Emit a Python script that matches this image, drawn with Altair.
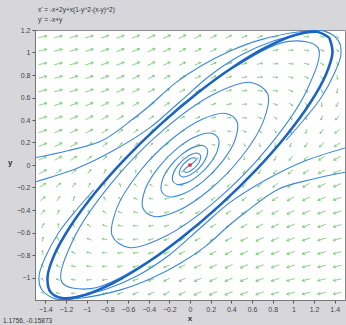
import altair as alt
import pandas as pd

# ---------------- text ----------------
EQ_LINE1 = "x' = -x+2y+x(1-y^2-(x-y)^2)"
EQ_LINE2 = "y' = -x+y"
READOUT = "1.1756,  -0.15873"

X_TICKS = [-1.4, -1.2, -1.0, -0.8, -0.6, -0.4, -0.2, 0.0, 0.2, 0.4, 0.6, 0.8, 1.0, 1.2, 1.4]
Y_TICKS = [-1.0, -0.8, -0.6, -0.4, -0.2, 0.0, 0.2, 0.4, 0.6, 0.8, 1.0, 1.2]

# ---------------- direction field (grid, arrow angle in degrees, strength) ----------------
X_GRID = [-1.425, -1.275, -1.125, -0.975, -0.825, -0.675, -0.525, -0.375, -0.225, -0.075,
          0.075, 0.225, 0.375, 0.525, 0.675, 0.825, 0.975, 1.125, 1.275, 1.425]
Y_GRID = [1.14, 1.02, 0.90, 0.78, 0.66, 0.54, 0.42, 0.30, 0.18, 0.06,
          -0.06, -0.18, -0.30, -0.42, -0.54, -0.66, -0.78, -0.90, -1.02, -1.14]

ARROW_ANGLE = [
    [11, 12, 13, 15, 17, 19, 21, 23, 25, 26, 27, 27, 26, 24, 20, 16, 10, 1, -13, -43],
    [12, 13, 14, 16, 18, 20, 22, 24, 25, 26, 27, 26, 23, 20, 15, 10, 3, -7, -22, -51],
    [12, 14, 15, 17, 19, 21, 23, 25, 26, 27, 26, 24, 21, 16, 11, 4, -4, -15, -33, -64],
    [13, 15, 17, 19, 21, 23, 25, 27, 28, 27, 26, 22, 18, 12, 5, -2, -12, -25, -46, -81],
    [14, 16, 18, 21, 23, 25, 27, 29, 29, 28, 25, 20, 14, 7, -1, -10, -22, -38, -65, -100],
    [16, 18, 20, 23, 26, 28, 30, 31, 31, 29, 24, 18, 10, 1, -9, -20, -35, -58, -89, -117],
    [17, 20, 23, 26, 29, 32, 34, 35, 34, 30, 23, 14, 3, -8, -21, -36, -57, -83, -110, -130],
    [19, 22, 26, 29, 33, 37, 39, 40, 38, 31, 21, 7, -8, -23, -40, -60, -84, -108, -127, -140],
    [22, 25, 29, 34, 40, 44, 48, 49, 45, 35, 16, -7, -30, -51, -71, -91, -110, -126, -138, -147],
    [24, 29, 35, 42, 49, 57, 63, 66, 64, 48, -7, -56, -76, -89, -103, -116, -127, -137, -146, -152],
    [28, 34, 43, 53, 64, 77, 91, 104, 124, 173, -132, -116, -114, -117, -123, -131, -138, -145, -151, -156],
    [33, 42, 54, 70, 89, 109, 129, 150, 173, -164, -145, -135, -131, -132, -136, -140, -146, -151, -155, -158],
    [40, 53, 72, 96, 120, 140, 157, 172, -173, -159, -149, -142, -140, -141, -143, -147, -151, -154, -158, -161],
    [50, 70, 97, 123, 144, 159, 172, -177, -166, -157, -150, -146, -145, -146, -148, -151, -154, -157, -160, -163],
    [63, 91, 122, 145, 160, 171, -179, -170, -162, -156, -151, -149, -149, -150, -152, -154, -157, -160, -162, -164],
    [80, 115, 142, 158, 170, 179, -173, -166, -160, -155, -152, -151, -151, -153, -155, -157, -159, -162, -164, -166],
    [99, 134, 155, 168, 178, -175, -168, -162, -158, -154, -153, -152, -153, -155, -157, -159, -161, -163, -165, -167],
    [116, 147, 165, 176, -176, -169, -164, -159, -156, -154, -153, -154, -155, -157, -159, -161, -163, -165, -166, -168],
    [129, 158, 173, -177, -170, -165, -160, -157, -154, -153, -154, -155, -156, -158, -160, -162, -164, -166, -167, -168],
    [137, 167, -179, -170, -164, -160, -156, -154, -153, -153, -154, -155, -157, -159, -161, -163, -165, -167, -168, -169],
]

ARROW_MAG = [
    [3, 3, 3, 3, 3, 3, 3, 3, 3, 2.8, 2.4, 2.0, 1.7, 1.5, 1.3, 1.2, 1.0, 0.8, 0.6, 0.4],
    [3, 3, 3, 3, 3, 3, 3, 3, 2.9, 2.5, 2.1, 1.8, 1.6, 1.5, 1.3, 1.2, 1.0, 0.9, 0.7, 0.5],
    [3, 3, 3, 3, 3, 3, 3, 3, 2.5, 2.2, 1.9, 1.7, 1.5, 1.4, 1.2, 1.1, 1.0, 0.9, 0.7, 0.6],
    [3, 3, 3, 3, 3, 3, 3, 2.6, 2.2, 1.9, 1.6, 1.5, 1.3, 1.2, 1.2, 1.1, 1.0, 0.8, 0.7, 0.7],
    [3, 3, 3, 3, 3, 3, 2.6, 2.2, 1.8, 1.6, 1.4, 1.3, 1.2, 1.1, 1.0, 1.0, 0.9, 0.8, 0.7, 0.8],
    [3, 3, 3, 3, 3, 2.6, 2.1, 1.8, 1.5, 1.3, 1.1, 1.0, 1.0, 0.9, 0.9, 0.8, 0.8, 0.7, 0.7, 1.0],
    [3, 3, 3, 3, 2.6, 2.1, 1.7, 1.4, 1.2, 1.0, 0.9, 0.8, 0.8, 0.7, 0.7, 0.7, 0.7, 0.7, 0.9, 1.3],
    [3, 3, 3, 2.6, 2.1, 1.6, 1.3, 1.1, 0.9, 0.7, 0.6, 0.6, 0.6, 0.6, 0.6, 0.6, 0.7, 0.9, 1.2, 1.7],
    [3, 3, 2.7, 2.1, 1.6, 1.2, 1.0, 0.7, 0.6, 0.4, 0.4, 0.4, 0.4, 0.4, 0.5, 0.6, 0.8, 1.2, 1.6, 2.3],
    [3, 2.7, 2.1, 1.6, 1.2, 0.9, 0.7, 0.5, 0.3, 0.2, 0.1, 0.2, 0.3, 0.5, 0.6, 0.9, 1.2, 1.6, 2.1, 2.9],
    [2.9, 2.1, 1.6, 1.2, 0.9, 0.6, 0.5, 0.3, 0.2, 0.1, 0.2, 0.3, 0.5, 0.7, 0.9, 1.2, 1.6, 2.1, 2.7, 3],
    [2.3, 1.6, 1.2, 0.8, 0.6, 0.5, 0.4, 0.4, 0.4, 0.4, 0.4, 0.6, 0.7, 1.0, 1.2, 1.6, 2.1, 2.7, 3, 3],
    [1.7, 1.2, 0.9, 0.7, 0.6, 0.6, 0.6, 0.6, 0.6, 0.6, 0.7, 0.9, 1.1, 1.3, 1.6, 2.1, 2.6, 3, 3, 3],
    [1.3, 0.9, 0.7, 0.7, 0.7, 0.7, 0.7, 0.8, 0.8, 0.9, 1.0, 1.2, 1.4, 1.7, 2.1, 2.6, 3, 3, 3, 3],
    [1.0, 0.7, 0.7, 0.8, 0.8, 0.9, 0.9, 1.0, 1.0, 1.1, 1.3, 1.5, 1.8, 2.1, 2.6, 3, 3, 3, 3, 3],
    [0.8, 0.7, 0.8, 0.9, 1.0, 1.0, 1.1, 1.2, 1.3, 1.4, 1.6, 1.8, 2.2, 2.6, 3, 3, 3, 3, 3, 3],
    [0.7, 0.7, 0.8, 1.0, 1.1, 1.2, 1.2, 1.3, 1.5, 1.6, 1.9, 2.2, 2.6, 3, 3, 3, 3, 3, 3, 3],
    [0.6, 0.7, 0.9, 1.0, 1.1, 1.2, 1.4, 1.5, 1.7, 1.9, 2.2, 2.5, 3, 3, 3, 3, 3, 3, 3, 3],
    [0.5, 0.7, 0.9, 1.0, 1.2, 1.3, 1.5, 1.6, 1.8, 2.1, 2.5, 2.9, 3, 3, 3, 3, 3, 3, 3, 3],
    [0.4, 0.6, 0.8, 1.0, 1.2, 1.3, 1.5, 1.7, 2.0, 2.4, 2.8, 3, 3, 3, 3, 3, 3, 3, 3, 3],
]

# ---------------- trajectories ----------------
CYCLE_X = [1.348, 1.226, 1.019, 0.744, 0.418, 0.063, -0.296, -0.635, -0.930, -1.162, -1.315, -1.379,
           -1.348, -1.226, -1.019, -0.744, -0.418, -0.063, 0.296, 0.635, 0.930, 1.162, 1.315, 1.379, 1.348]
CYCLE_Y = [1.131, 1.184, 1.156, 1.049, 0.871, 0.633, 0.352, 0.048, -0.260, -0.551, -0.803, -1.001,
           -1.131, -1.184, -1.156, -1.049, -0.871, -0.633, -0.352, -0.048, 0.260, 0.551, 0.803, 1.001, 1.131]

OUTER1_X = [-1.505, -1.184, -0.854, -0.534, -0.388, -0.146, 0.097, 0.388, 0.680, 1.068, 1.30, 1.44, 1.46, 1.40, 1.27, 1.10, 0.93]
OUTER1_Y = [0.063, 0.126, 0.215, 0.422, 0.529, 0.725, 0.875, 1.013, 1.112, 1.184, 1.19, 1.10, 0.98, 0.82, 0.60, 0.40, 0.22]
OUTER1M_X = [1.505, 1.184, 0.854, 0.534, 0.388, 0.146, -0.097, -0.388, -0.680, -1.068, -1.30, -1.44, -1.46, -1.40, -1.27, -1.10, -0.93]
OUTER1M_Y = [-0.063, -0.126, -0.215, -0.422, -0.529, -0.725, -0.875, -1.013, -1.112, -1.184, -1.19, -1.10, -0.98, -0.82, -0.60, -0.40, -0.22]

OUTER2_X = [-1.505, -1.087, -0.728, -0.388, -0.10, 0.20, 0.50, 0.80, 1.10, 1.25]
OUTER2_Y = [-0.152, -0.027, 0.135, 0.332, 0.56, 0.80, 0.98, 1.10, 1.17, 1.20]
OUTER2M_X = [1.505, 1.087, 0.728, 0.388, 0.10, -0.20, -0.50, -0.80, -1.10, -1.25]
OUTER2M_Y = [0.152, 0.027, -0.135, -0.332, -0.56, -0.80, -0.98, -1.10, -1.17, -1.20]

SPIRAL1_X = [-0.295, 0.399, 0.957, 1.240, 1.129, 0.760, 0.260, -0.229, -0.590, -0.752, -0.705, -0.490, -0.187,
             0.118, 0.347, 0.456, 0.435, 0.308, 0.124, -0.064, -0.207, -0.276, -0.266, -0.191, -0.079, 0.036,
             0.124, 0.168, 0.162, 0.117, 0.049, -0.021, -0.075, -0.102, -0.099, -0.072, -0.030, 0.012, 0.045,
             0.062, 0.0]
SPIRAL1_Y = [0.352, 0.852, 1.099, 1.041, 0.662, 0.161, -0.310, -0.629, -0.734, -0.631, -0.377, -0.062, 0.222,
             0.407, 0.458, 0.383, 0.220, 0.025, -0.148, -0.256, -0.282, -0.232, -0.130, -0.010, 0.094, 0.159,
             0.173, 0.141, 0.078, 0.004, -0.059, -0.097, -0.105, -0.085, -0.047, -0.002, 0.036, 0.060, 0.064,
             0.052, 0.0]
SPIRAL2_X = [0.295, -0.399, -0.957, -1.240, -1.129, -0.760, -0.260, 0.229, 0.590, 0.752, 0.705, 0.490, 0.187,
             -0.118, -0.347, -0.456, -0.435, -0.308, -0.124, 0.064, 0.207, 0.276, 0.266, 0.191, 0.079, -0.036,
             -0.124, -0.168, -0.162, -0.117, -0.049, 0.021, 0.075, 0.102, 0.099, 0.072, 0.030, -0.012, -0.045,
             -0.062, 0.0]
SPIRAL2_Y = [-0.352, -0.852, -1.099, -1.041, -0.662, -0.161, 0.310, 0.629, 0.734, 0.631, 0.377, 0.062, -0.222,
             -0.407, -0.458, -0.383, -0.220, -0.025, 0.148, 0.256, 0.282, 0.232, 0.130, 0.010, -0.094, -0.159,
             -0.173, -0.141, -0.078, -0.004, 0.059, 0.097, 0.105, 0.085, 0.047, 0.002, -0.036, -0.060, -0.064,
             -0.052, 0.0]

EQUIL_X = [0.0]
EQUIL_Y = [0.0]

# ---------------- build tables ----------------
field_rows = []
for j, yv in enumerate(Y_GRID):
    for i, xv in enumerate(X_GRID):
        a = ARROW_ANGLE[j][i]
        field_rows.append({"x": xv, "y": yv, "rot": (360 - a) % 360, "mag": ARROW_MAG[j][i]})
field_df = pd.DataFrame(field_rows)

thin = {
    "outer1": (OUTER1_X, OUTER1_Y),
    "outer1m": (OUTER1M_X, OUTER1M_Y),
    "outer2": (OUTER2_X, OUTER2_Y),
    "outer2m": (OUTER2M_X, OUTER2M_Y),
    "spiral1": (SPIRAL1_X, SPIRAL1_Y),
    "spiral2": (SPIRAL2_X, SPIRAL2_Y),
}
line_rows = []
for name, (xs, ys) in thin.items():
    for k, (xv, yv) in enumerate(zip(xs, ys)):
        line_rows.append({"traj": name, "order": k, "x": xv, "y": yv})
lines_df = pd.DataFrame(line_rows)
cycle_df = pd.DataFrame({"order": list(range(len(CYCLE_X))), "x": CYCLE_X, "y": CYCLE_Y})
eq_df = pd.DataFrame({"x": EQUIL_X, "y": EQUIL_Y})

FONT = "Liberation Sans"
xscale = alt.Scale(domain=[-1.5, 1.5], nice=False, zero=False)
yscale = alt.Scale(domain=[-1.2, 1.2], nice=False, zero=False)
xaxis = alt.Axis(values=X_TICKS, format="~g", title=None, grid=False, tickSize=3, labelFontSize=7,
                 labelPadding=2, labelFont=FONT, labelColor="#444444", tickColor="#555555",
                 domainColor="#777777")
yaxis = alt.Axis(values=Y_TICKS, format="~g", title=None, grid=False, tickSize=3, labelFontSize=7,
                 labelPadding=2, labelFont=FONT, labelColor="#444444", tickColor="#555555",
                 domainColor="#777777")

X = alt.X("x:Q", scale=xscale, axis=xaxis)
Y = alt.Y("y:Q", scale=yscale, axis=yaxis)

ARROW_PATH = "M-1,0L1,0M0.4,-0.35L1,0L0.4,0.35"

field = alt.Chart(field_df).mark_point(
    shape=ARROW_PATH, filled=False, strokeWidth=0.8, color="#74c874", opacity=0.95
).encode(
    x=X, y=Y,
    angle=alt.Angle("rot:Q", scale=None),
    size=alt.Size("mag:Q", scale=alt.Scale(domain=[0, 3], range=[3, 70], clamp=True), legend=None),
)

traj = alt.Chart(lines_df).mark_line(
    interpolate="catmull-rom", clip=True, strokeWidth=1.1, color="#3a88d8"
).encode(x=X, y=Y, order="order:Q", detail="traj:N")

cycle = alt.Chart(cycle_df).mark_line(
    interpolate="catmull-rom", clip=True, strokeWidth=2.6, color="#1c64c4"
).encode(x=X, y=Y, order="order:Q")

equil = alt.Chart(eq_df).mark_point(filled=True, color="#e03030", size=14, opacity=1).encode(x=X, y=Y)


def label(text, px, py, size=6.5, weight="normal", align="left"):
    return alt.Chart(pd.DataFrame({"t": [text]})).mark_text(
        align=align, baseline="middle", fontSize=size, font=FONT, color="#333333", fontWeight=weight
    ).encode(text="t:N", x=alt.value(px), y=alt.value(py))


texts = [
    label(EQ_LINE1, 3, -20),
    label(EQ_LINE2, 3, -10),
    label("y", -27, 133, size=8, weight="bold"),
    label("x", 155, 289, size=8, weight="bold", align="center"),
    label(READOUT, -32, 291, size=6.5),
]

chart = alt.layer(field, traj, cycle, equil, *texts).properties(
    width=310,
    height=270,
    padding={"left": 35, "top": 30, "right": 1, "bottom": 25},
    autosize=alt.AutoSizeParams(type="none"),
    background="#d7d7db",
).configure_view(stroke="#8a8a8a", fill="white")

chart.save("out.html", embed_options={"renderer": "svg", "actions": False})
